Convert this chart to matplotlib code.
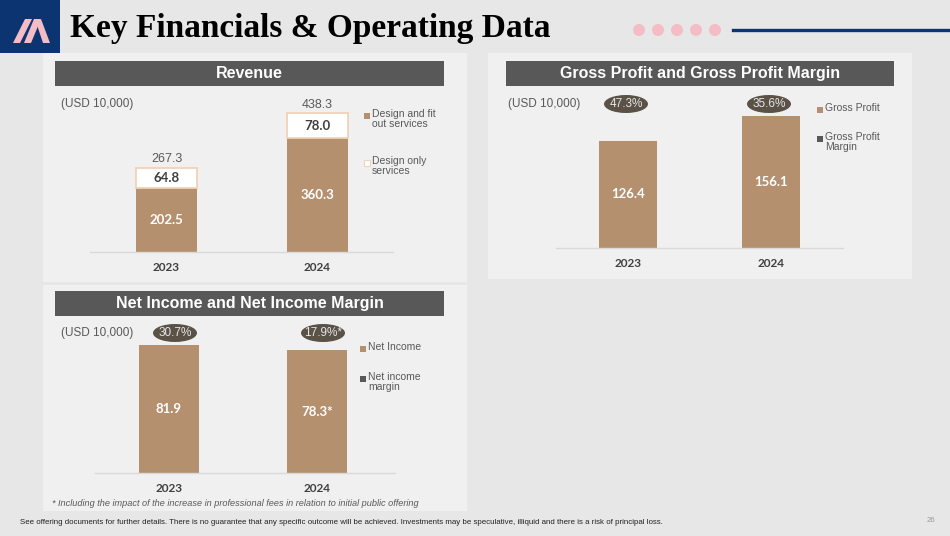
import matplotlib
matplotlib.use("Agg")
import matplotlib.pyplot as plt
from matplotlib.patches import Rectangle, Ellipse, Polygon

W, H = 950, 536

# ---- data ----
years = ["2023", "2024"]
rev_fit = [202.5, 360.3]
rev_design = [64.8, 78.0]
rev_total = [267.3, 438.3]
rev_series = ["Design and fit\nout services", "Design only\nservices"]

gp = [126.4, 156.1]
gp_margin = ["47.3%", "35.6%"]
gp_series = ["Gross Profit", "Gross Profit\nMargin"]

ni = [81.9, 78.3]
ni_labels = ["81.9", "78.3*"]
ni_margin = ["30.7%", "17.9%*"]
ni_series = ["Net Income", "Net income\nmargin"]

unit_label = "(USD 10,000)"
footnote = "* Including the impact of the increase in professional fees in relation to initial public offering"
disclaimer = ("See offering documents for further details. There is no guarantee that any specific outcome "
              "will be achieved. Investments may be speculative, illiquid and there is a risk of principal loss.")

# ---- styles ----
BG = "#e7e7e7"
PANEL = "#f0f0f0"
HEADER = "#585858"
BROWN = "#b4906f"
PEACH = "#f1d2b8"
OVAL = "#5a5247"
NAVY = "#0c3471"
PINK = "#f4bcc4"
GREY_TXT = "#595959"
DARK_TXT = "#404040"
SANS = "Liberation Sans"
NUM = "Lato"

fig = plt.figure(figsize=(W / 100, H / 100), dpi=100)
fig.patch.set_facecolor(BG)


def fx(x):
    return x / W


def fy(y):
    return 1 - y / H


def box(x0, y0, x1, y1, color, z=0):
    fig.add_artist(Rectangle((fx(x0), fy(y1)), (x1 - x0) / W, (y1 - y0) / H,
                             transform=fig.transFigure, facecolor=color,
                             edgecolor="none", zorder=z))


def header(x0, x1, y0, y1, text):
    box(x0, y0, x1, y1, HEADER, z=1)
    fig.text(fx((x0 + x1) / 2), fy((y0 + y1) / 2), text, color="white",
             fontsize=11.5, fontweight="bold", family=SANS,
             ha="center", va="center")


def make_ax(x0, x1, base, c0, c1, px_per_unit, top=None):
    """Axes whose categories sit at 0 and 1 on pixel centres c0, c1."""
    step = c1 - c0
    top = base - 150 if top is None else top
    ax = fig.add_axes([fx(x0), fy(base), (x1 - x0) / W, (base - top) / H])
    ax.set_xlim(-(c0 - x0) / step, 1 + (x1 - c1) / step)
    ax.set_ylim(0, (base - top) / px_per_unit)
    ax.patch.set_visible(False)
    for s in ["top", "right", "left"]:
        ax.spines[s].set_visible(False)
    ax.spines["bottom"].set_color("#d9d9d9")
    ax.spines["bottom"].set_linewidth(1.0)
    ax.set_yticks([])
    ax.set_xticks(range(len(years)))
    ax.set_xticklabels(years, fontsize=8.5, fontweight="bold",
                       family=NUM, color=DARK_TXT)
    ax.tick_params(axis="x", length=0, pad=7.5)
    return ax, step


def legend_item(x, y, text, face, edge="none"):
    box(x - 3, y - 3, x + 3, y + 3, face, z=2)
    if edge != "none":
        fig.add_artist(Rectangle((fx(x - 3), fy(y + 3)), 6 / W, 6 / H,
                                 transform=fig.transFigure, facecolor=face,
                                 edgecolor=edge, lw=0.8, zorder=3))
    fig.text(fx(x + 5), fy(y - 7), text, fontsize=7.5, family=SANS,
             color=GREY_TXT, ha="left", va="top", linespacing=0.95)


def ovals(ax, labels, y, dx=0):
    for i, lab in enumerate(labels):
        cx = ax.transData.transform((i, 0))[0] + dx
        fig.add_artist(Ellipse((fx(cx), fy(y)), 44 / W, 18 / H,
                               transform=fig.transFigure, facecolor=OVAL,
                               edgecolor="none", zorder=3))
        fig.text(fx(cx), fy(y), lab, fontsize=8.5, family=SANS,
                 color="#e6e6e6", ha="center", va="center", zorder=4)


# ---- slide frame ----
box(0, 0, 60, 53, NAVY, z=1)
for pts in ([(13, 43), (20, 43), (32, 19), (25, 19)],
            [(24, 43), (31, 43), (41, 19), (34, 19)],
            [(37, 25), (41, 19), (50, 43), (43, 43)]):
    fig.add_artist(Polygon([(fx(a), fy(b)) for a, b in pts], closed=True,
                           transform=fig.transFigure, facecolor=PINK,
                           edgecolor="none", zorder=2))
fig.text(fx(70), fy(28), "Key Financials & Operating Data", fontsize=24,
         fontweight="bold", family="Liberation Serif", color="black",
         ha="left", va="center")
for i in range(5):
    fig.add_artist(Ellipse((fx(639 + 19 * i), fy(30)), 12 / W, 12 / H,
                           transform=fig.transFigure, facecolor=PINK,
                           edgecolor="none", zorder=2))
fig.add_artist(plt.Line2D([fx(733), 1], [fy(30), fy(30)], color=NAVY,
                          lw=2.4, transform=fig.transFigure, zorder=2))

box(43, 53, 467, 282, PANEL)
box(488, 53, 912, 279, PANEL)
box(43, 285, 467, 511, PANEL)

header(55, 444, 61, 86, "Revenue")
header(506, 894, 61, 86, "Gross Profit and Gross Profit Margin")
header(55, 444, 291, 316, "Net Income and Net Income Margin")

# ---- revenue ----
ax1, step1 = make_ax(90, 393, 252, 166.5, 317.5, 0.316)
w1 = 61 / step1
x = range(len(years))
ax1.bar(x, rev_fit, width=w1, color=BROWN, zorder=2)
ax1.bar(x, rev_design, width=w1, bottom=rev_fit, color="white",
        edgecolor=PEACH, linewidth=1.3, zorder=2)
for i in x:
    ax1.text(i, rev_fit[i] / 2, f"{rev_fit[i]:.1f}", ha="center", va="center",
             color="white", fontsize=9.5, fontweight="bold", family=NUM)
    ax1.text(i, rev_fit[i] + rev_design[i] / 2, f"{rev_design[i]:.1f}",
             ha="center", va="center", color=DARK_TXT, fontsize=9.5,
             fontweight="bold", family=NUM)
    ax1.annotate(f"{rev_total[i]:.1f}", (i, rev_total[i]), xytext=(0, 2),
                 textcoords="offset points", ha="center", va="bottom",
                 fontsize=9, family=SANS, color=GREY_TXT, annotation_clip=False)
fig.text(fx(61), fy(104), unit_label, fontsize=8.5, family=SANS,
         color=GREY_TXT, ha="left", va="center")
legend_item(367, 116, rev_series[0], BROWN)
legend_item(367, 163, rev_series[1], "white", PEACH)

# ---- gross profit ----
ax2, step2 = make_ax(556, 843, 248, 628, 771, 0.847)
ax2.bar(x, gp, width=58 / step2, color=BROWN, zorder=2)
for i in x:
    ax2.text(i, gp[i] / 2, f"{gp[i]:.1f}", ha="center", va="center",
             color="white", fontsize=9.5, fontweight="bold", family=NUM)
fig.text(fx(508), fy(104), unit_label, fontsize=8.5, family=SANS,
         color=GREY_TXT, ha="left", va="center")
ovals(ax2, gp_margin, 104, dx=-2)
legend_item(820, 110, gp_series[0], BROWN)
legend_item(820, 139, gp_series[1], HEADER)

# ---- net income ----
ax3, step3 = make_ax(95, 395, 473, 169, 317, 1.565)
ax3.bar(x, ni, width=60 / step3, color=BROWN, zorder=2)
for i in x:
    ax3.text(i, ni[i] / 2, ni_labels[i], ha="center", va="center",
             color="white", fontsize=9.5, fontweight="bold", family=NUM)
fig.text(fx(61), fy(333), unit_label, fontsize=8.5, family=SANS,
         color=GREY_TXT, ha="left", va="center")
ovals(ax3, ni_margin, 333, dx=6)
legend_item(363, 349, ni_series[0], BROWN)
legend_item(363, 379, ni_series[1], HEADER)

fig.text(fx(52), fy(503), footnote, fontsize=6.6, family=SANS, style="italic",
         color=GREY_TXT, ha="left", va="center")

# ---- footer ----
fig.text(fx(20), fy(522), disclaimer, fontsize=5.7, family=SANS,
         color="#222222", ha="left", va="center")
fig.text(fx(935), fy(520), "26", fontsize=5.7, family=SANS,
         color="#9a9a9a", ha="right", va="center")

fig.savefig("out.png", dpi=100, facecolor=BG)
